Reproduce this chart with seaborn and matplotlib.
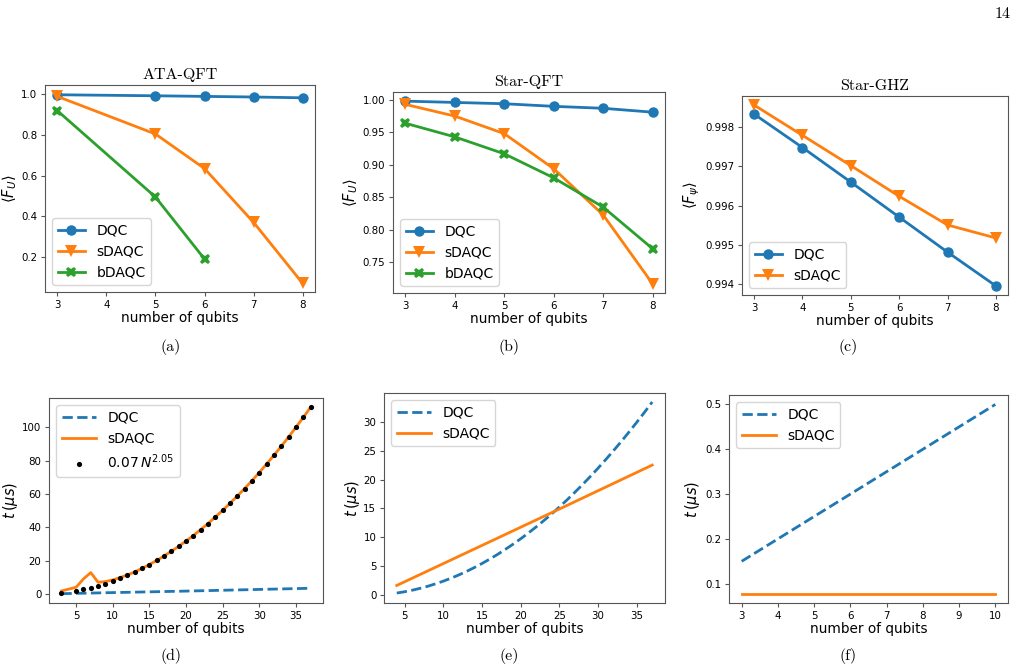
import numpy as np
import pandas as pd
import matplotlib
matplotlib.use("Agg")
import matplotlib.pyplot as plt
import seaborn as sns

# (a) ATA-QFT
a_n = [3, 5, 6, 7, 8]
a_dqc = [0.998, 0.993, 0.990, 0.987, 0.983]
a_sdaqc = [0.990, 0.805, 0.635, 0.370, 0.070]
a_bn = [3, 5, 6]
a_bdaqc = [0.920, 0.495, 0.190]

# (b) Star-QFT
b_n = [3, 4, 5, 6, 7, 8]
b_dqc = [0.998, 0.996, 0.994, 0.990, 0.987, 0.981]
b_sdaqc = [0.993, 0.975, 0.948, 0.894, 0.823, 0.717]
b_bdaqc = [0.964, 0.943, 0.917, 0.880, 0.835, 0.771]

# (c) Star-GHZ
c_n = [3, 4, 5, 6, 7, 8]
c_dqc = [0.99833, 0.99748, 0.99660, 0.99571, 0.99482, 0.99396]
c_sdaqc = [0.99856, 0.99779, 0.99702, 0.99624, 0.99551, 0.99518]

# (d) time, ATA-QFT
d_dqc_n = [3, 10, 20, 30, 37]
d_dqc = [0.15, 0.8, 1.7, 2.7, 3.4]
d_n = [3, 5, 6, 7, 8, 9, 10, 11, 12, 13, 14, 15, 16, 17, 18, 19, 20, 21, 22,
       23, 24, 25, 26, 27, 28, 29, 30, 31, 32, 33, 34, 35, 36, 37]
d_sdaqc = [1.8, 4.0, 9.0, 12.8, 7.0, 7.4, 8.4, 9.8, 11.4, 13.2, 15.3, 17.6,
           20.1, 22.7, 25.6, 28.5, 31.7, 35.0, 38.6, 42.2, 46.1, 50.1, 54.3,
           58.7, 63.2, 67.9, 72.8, 77.9, 83.1, 88.5, 94.1, 99.9, 105.8, 111.9]
d_fit = [0.6, 1.9, 2.7, 3.7, 4.8, 6.2, 7.7, 9.3, 11.1, 13.1, 15.3, 17.6,
         20.1, 22.7, 25.6, 28.5, 31.7, 35.0, 38.6, 42.2, 46.1, 50.1, 54.3,
         58.7, 63.2, 67.9, 72.8, 77.9, 83.1, 88.5, 94.1, 99.9, 105.8, 111.9]

# (e) time, Star-QFT
e_n = list(range(4, 38))
e_dqc = [0.39, 0.61, 0.88, 1.20, 1.56, 1.98, 2.44, 2.95, 3.51, 4.12, 4.78,
         5.49, 6.25, 7.05, 7.91, 8.81, 9.76, 10.76, 11.81, 12.91, 14.05,
         15.25, 16.49, 17.79, 19.13, 20.52, 21.96, 23.45, 24.99, 26.57,
         28.21, 29.89, 31.62, 33.40]
e_sn = [4, 25, 37]
e_sdaqc = [1.7, 14.9, 22.5]

# (f) time, Star-GHZ
f_n = [3, 4, 5, 6, 7, 8, 9, 10]
f_dqc = [0.15, 0.20, 0.25, 0.30, 0.35, 0.40, 0.45, 0.50]
f_sdaqc = [0.078, 0.078, 0.078, 0.078, 0.078, 0.078, 0.078, 0.078]

blue, orange, green = "#1f77b4", "#ff7f0e", "#2ca02c"
serif = "cmr10"

plt.rcParams["font.size"] = 8
plt.rcParams["axes.edgecolor"] = "#555555"
plt.rcParams["axes.linewidth"] = 0.8

fig = plt.figure(figsize=(10.24, 6.7), dpi=100)
W, H = 1024, 670


def box(l, t, r, b):
    return [l / W, 1 - b / H, (r - l) / W, (b - t) / H]


ax_a = fig.add_axes(box(45, 85, 315, 292))
ax_b = fig.add_axes(box(393, 92, 665, 293))
ax_c = fig.add_axes(box(742, 96, 1008, 295))
ax_d = fig.add_axes(box(49, 398, 323, 603))
ax_e = fig.add_axes(box(384, 393, 665, 603))
ax_f = fig.add_axes(box(729, 395, 1008, 603))

lw = 2.0
ms = 7.5

# top row
sns.lineplot(x=a_n, y=a_dqc, ax=ax_a, color=blue, marker="o", markersize=ms,
             markeredgewidth=0, linewidth=lw, label="DQC")
sns.lineplot(x=a_n, y=a_sdaqc, ax=ax_a, color=orange, marker="v", markersize=ms + 1,
             markeredgewidth=0, linewidth=lw, label="sDAQC")
sns.lineplot(x=a_bn, y=a_bdaqc, ax=ax_a, color=green, marker="X", markersize=ms,
             markeredgewidth=0, linewidth=lw, label="bDAQC")
ax_a.set_title("ATA-QFT", family=serif, fontsize=11.5, pad=4)
ax_a.set_ylabel(r"$\langle F_U\rangle$", fontsize=10.5)
ax_a.set_yticks([0.2, 0.4, 0.6, 0.8, 1.0])
ax_a.set_ylim(0.028, 1.046)

sns.lineplot(x=b_n, y=b_dqc, ax=ax_b, color=blue, marker="o", markersize=ms,
             markeredgewidth=0, linewidth=lw, label="DQC")
sns.lineplot(x=b_n, y=b_sdaqc, ax=ax_b, color=orange, marker="v", markersize=ms + 1,
             markeredgewidth=0, linewidth=lw, label="sDAQC")
sns.lineplot(x=b_n, y=b_bdaqc, ax=ax_b, color=green, marker="X", markersize=ms,
             markeredgewidth=0, linewidth=lw, label="bDAQC")
ax_b.set_title("Star-QFT", family=serif, fontsize=11.5, pad=4)
ax_b.set_ylabel(r"$\langle F_U\rangle$", fontsize=10.5)
ax_b.set_yticks([0.75, 0.80, 0.85, 0.90, 0.95, 1.00])

sns.lineplot(x=c_n, y=c_dqc, ax=ax_c, color=blue, marker="o", markersize=ms,
             markeredgewidth=0, linewidth=lw, label="DQC")
sns.lineplot(x=c_n, y=c_sdaqc, ax=ax_c, color=orange, marker="v", markersize=ms + 1,
             markeredgewidth=0, linewidth=lw, label="sDAQC")
ax_c.set_title("Star-GHZ", family=serif, fontsize=11.5, pad=4)
ax_c.set_ylabel(r"$\langle F_\psi\rangle$", fontsize=10.5)
ax_c.set_yticks([0.994, 0.995, 0.996, 0.997, 0.998])
ax_c.yaxis.set_major_formatter(matplotlib.ticker.FormatStrFormatter("%.3f"))

for ax in (ax_a, ax_b, ax_c):
    ax.set_xticks([3, 4, 5, 6, 7, 8])
    ax.legend(loc="lower left", fontsize=10, handlelength=2.0)

# bottom row
sns.lineplot(x=d_dqc_n, y=d_dqc, ax=ax_d, color=blue, linestyle="--",
             linewidth=lw, label="DQC")
sns.lineplot(x=d_n, y=d_sdaqc, ax=ax_d, color=orange, linewidth=lw, label="sDAQC")
sns.scatterplot(x=d_n, y=d_fit, ax=ax_d, color="black", s=14, linewidth=0,
                label=r"$0.07\,N^{2.05}$", zorder=3)
ax_d.set_xticks([5, 10, 15, 20, 25, 30, 35])
ax_d.set_yticks([0, 20, 40, 60, 80, 100])

sns.lineplot(x=e_n, y=e_dqc, ax=ax_e, color=blue, linestyle="--",
             linewidth=lw, label="DQC")
sns.lineplot(x=e_sn, y=e_sdaqc, ax=ax_e, color=orange, linewidth=lw, label="sDAQC")
ax_e.set_xticks([5, 10, 15, 20, 25, 30, 35])
ax_e.set_ylim(-1.33, 34.95)

sns.lineplot(x=f_n, y=f_dqc, ax=ax_f, color=blue, linestyle="--",
             linewidth=lw, label="DQC")
sns.lineplot(x=f_n, y=f_sdaqc, ax=ax_f, color=orange, linewidth=lw, label="sDAQC")
ax_f.set_xticks(f_n)
ax_f.set_yticks([0.1, 0.2, 0.3, 0.4, 0.5])

for ax in (ax_d, ax_e, ax_f):
    ax.set_ylabel(r"$t\,(\mu s)$", fontsize=10.5)
    ax.legend(loc="upper left", fontsize=10, handlelength=2.5)

for ax in (ax_a, ax_b, ax_c, ax_d, ax_e, ax_f):
    ax.set_xlabel("number of qubits", fontsize=9.8, labelpad=1)
    ax.tick_params(labelsize=7.4, length=3, pad=2.5, color="#555555")

# y-label positions (axes fraction), as in the reference
for ax, xl in [(ax_a, -0.096), (ax_b, -0.122), (ax_c, -0.150),
               (ax_d, -0.106), (ax_e, -0.078), (ax_f, -0.097)]:
    ax.yaxis.set_label_coords(xl, 0.5)

# sub-captions and page number
for x, y, s in [(171, 347, "(a)"), (509, 347, "(b)"), (848, 347, "(c)"),
                (171, 656, "(d)"), (509, 656, "(e)"), (848, 656, "(f)")]:
    fig.text(x / W, 1 - y / H, s, family=serif, fontsize=11.5, ha="center", va="center")
fig.text(1003 / W, 1 - 14 / H, "14", family=serif, fontsize=11.5, ha="center", va="center")

fig.savefig("out.png", dpi=100)
